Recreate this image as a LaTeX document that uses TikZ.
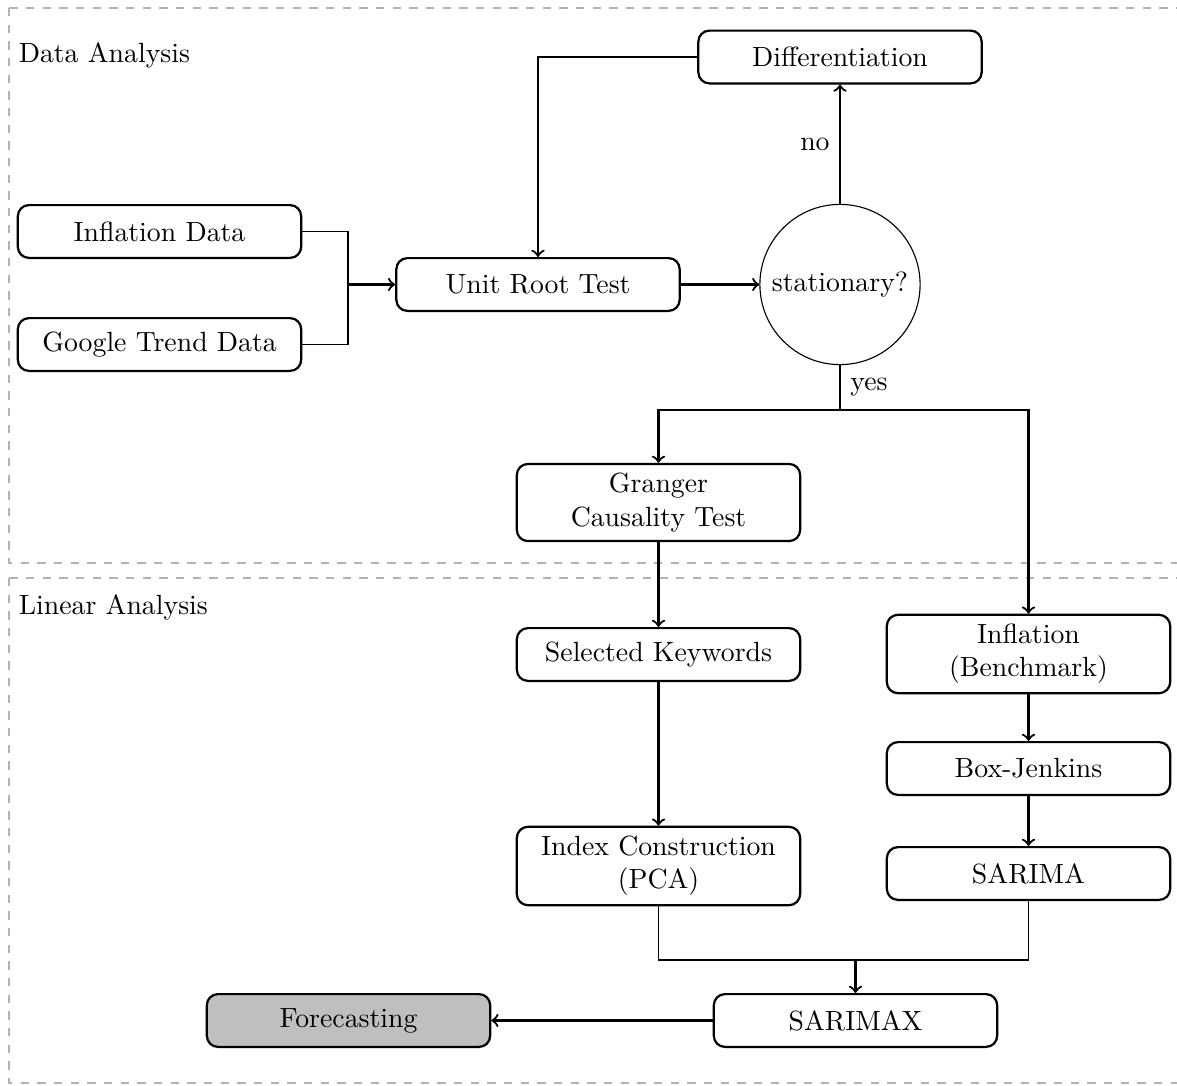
\documentclass[tikz,border=0pt]{standalone}
\begin{document}
\begin{tikzpicture}[x=0.36pt, y=-0.36pt,
  box/.style={rectangle, draw, thick, rounded corners=4pt, minimum width=102pt, minimum height=19pt, align=center},
  arr/.style={->, thick}]
\useasboundingbox (0,0) rectangle (1177,1086);
\clip (0,0) rectangle (1177,1086);

% frames
\draw[gray!60, dashed] (9,8) rectangle (1200,563);
\draw[gray!60, dashed] (9,578) rectangle (1200,1083);
\node[anchor=west] (lbl1) at (9,55) {Data Analysis};
\node[anchor=west] (lbl2) at (9,607) {Linear Analysis};

% nodes
\node[box] (infl) at (159.5,231.5) {Inflation Data};
\node[box] (gtd) at (159.5,344.5) {Google Trend Data};
\node[box] (urt) at (538,284.5) {Unit Root Test};
\node[box] (diff) at (840,57) {Differentiation};
\node[circle, draw, minimum size=56pt] (stat) at (840,284.5) {stationary?};
\node[box] (granger) at (658.5,502.5) {Granger\\Causality Test};
\node[box] (keys) at (658.5,654.5) {Selected Keywords};
\node[box] (index) at (658.5,866) {Index Construction\\(PCA)};
\node[box] (bench) at (1028.5,654) {Inflation\\(Benchmark)};
\node[box] (bj) at (1028.5,768.5) {Box-Jenkins};
\node[box] (sarima) at (1028.5,873.5) {SARIMA};
\node[box] (sarimax) at (855.5,1020.5) {SARIMAX};
\node[box, fill=gray!50] (fc) at (348.5,1020.5) {Forecasting};

\coordinate (j1) at (348,284.5);
\coordinate (split) at (840,410);
\coordinate (j2) at (855.5,960);

% edges
\draw (infl.east) -| (j1);
\draw (gtd.east) -| (j1);
\draw[arr] (j1) -- (urt.west);
\draw[arr] (urt) -- (stat);
\draw[arr] (stat.north) -- node[left] {no} (diff.south);
\draw[arr] (diff.west) -| (urt.north);
\draw[thick] (stat.south) -- node[right] {yes} (split);
\draw[arr] (split) -| (granger.north);
\draw[arr] (split) -| (bench.north);
\draw[arr] (granger) -- (keys);
\draw[arr] (keys) -- (index);
\draw[arr] (bench) -- (bj);
\draw[arr] (bj) -- (sarima);
\draw (index.south) |- (j2);
\draw (sarima.south) |- (j2);
\draw[arr] (j2) -- (sarimax.north);
\draw[arr] (sarimax) -- (fc);
\end{tikzpicture}
\end{document}
